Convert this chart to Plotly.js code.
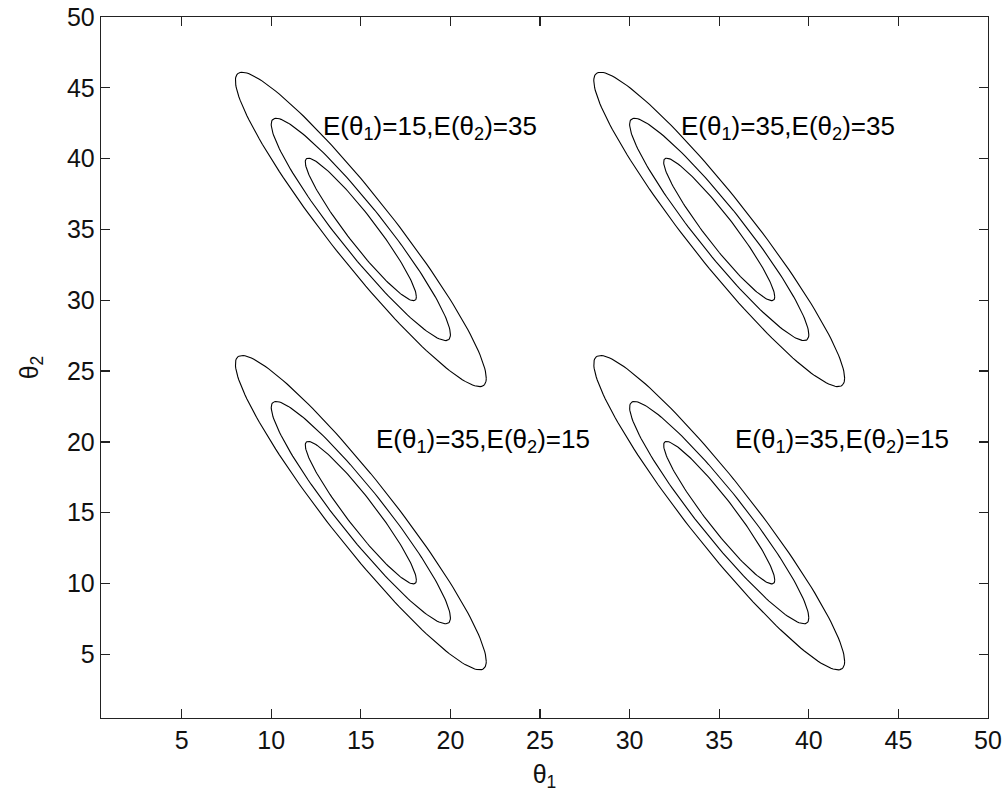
<!DOCTYPE html>
<html>
<head>
<meta charset="utf-8">
<script src="https://cdn.plot.ly/plotly-3.0.1.min.js"></script>
<style>html,body{margin:0;padding:0;background:#fff;}#chart{width:1006px;height:800px;}</style>
</head>
<body>
<div id="chart"></div>
<script>
// Means of the four distributions (from the figure's annotations / contour centres)
const meanTheta1 = [15, 35, 15, 35];
const meanTheta2 = [35, 35, 15, 15];
// Contour levels: half-extent of each contour along theta1 and theta2
const levelHalfExtent1 = [7.0, 5.0, 3.1];
const levelHalfExtent2 = [11.1, 7.85, 5.03];
// Correlation between theta1 and theta2 (shape of the contours)
const correlation = -0.946;
// Text labels as printed on the figure
const labelTexts = [
  'E(θ<sub>1</sub>)=15,E(θ<sub>2</sub>)=35',
  'E(θ<sub>1</sub>)=35,E(θ<sub>2</sub>)=35',
  'E(θ<sub>1</sub>)=35,E(θ<sub>2</sub>)=15',
  'E(θ<sub>1</sub>)=35,E(θ<sub>2</sub>)=15'
];
const labelTheta1 = [12.75, 32.75, 15.75, 35.75];
const labelTheta2 = [42.2, 42.2, 20.1, 20.1];
const tickValues = [5, 10, 15, 20, 25, 30, 35, 40, 45, 50];

const FONT = 'Liberation Sans, Arial, sans-serif';
const traces = [];
const nPts = 160;
const s = Math.sqrt(1 - correlation * correlation);
for (let g = 0; g < meanTheta1.length; g++) {
  for (let l = 0; l < levelHalfExtent1.length; l++) {
    const xs = [], ys = [];
    for (let i = 0; i <= nPts; i++) {
      const t = 2 * Math.PI * i / nPts;
      xs.push(meanTheta1[g] + levelHalfExtent1[l] * Math.cos(t));
      ys.push(meanTheta2[g] + levelHalfExtent2[l] * (correlation * Math.cos(t) + s * Math.sin(t)));
    }
    traces.push({x: xs, y: ys, type: 'scatter', mode: 'lines',
      line: {color: '#000', width: 1.1}, hoverinfo: 'skip', showlegend: false});
  }
}

const annotations = labelTexts.map((t, i) => ({
  x: labelTheta1[i], y: labelTheta2[i], xref: 'x', yref: 'y', text: t,
  showarrow: false, xanchor: 'left', yanchor: 'middle',
  font: {family: FONT, size: 26, color: '#000'}
}));

const axisCommon = {
  showgrid: false, zeroline: false, showline: true, linecolor: '#222', linewidth: 1.3,
  mirror: 'ticks', ticks: 'inside', ticklen: 9, tickwidth: 1.3, tickcolor: '#222',
  tickmode: 'array', tickvals: tickValues, ticktext: tickValues.map(String),
  tickfont: {family: FONT, size: 25, color: '#111'}, fixedrange: true
};

const layout = {
  width: 1006, height: 800,
  margin: {l: 101, r: 18, t: 17, b: 82},
  paper_bgcolor: '#fff', plot_bgcolor: '#fff',
  showlegend: false,
  xaxis: Object.assign({}, axisCommon, {range: [0.5, 50],
    title: {text: 'θ<sub>1</sub>', font: {family: FONT, size: 25, color: '#111'}, standoff: 12}}),
  yaxis: Object.assign({}, axisCommon, {range: [0.5, 50],
    title: {text: 'θ<sub>2</sub>', font: {family: FONT, size: 25, color: '#111'}, standoff: 21}}),
  annotations: annotations
};

Plotly.newPlot('chart', traces, layout, {staticPlot: true, displayModeBar: false});
</script>
</body>
</html>
